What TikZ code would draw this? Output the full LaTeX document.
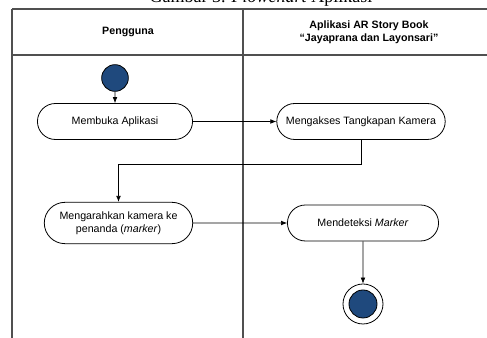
\documentclass[tikz,border=0pt]{standalone}
\usepackage{fontspec}
\setmainfont{Liberation Sans}
\newfontfamily\captionfont{Liberation Serif}
\usepackage{tikz}
\usetikzlibrary{positioning}
\usetikzlibrary{arrows.meta}
\usetikzlibrary{shapes.misc}
\definecolor{startblue}{RGB}{31,73,125}
\definecolor{lanegray}{RGB}{80,80,80}

\begin{document}
\begin{tikzpicture}[x=0.75pt,y=-0.75pt,font=\fontsize{8}{9.75}\selectfont,
lane/.style={draw=lanegray, line width=0.8pt},
activity/.style={rounded rectangle, draw, line width=0.6pt, align=center, minimum height=27pt},
flow/.style={-{Latex[length=4.5pt,width=3.5pt]}, line width=0.5pt},
startnode/.style={circle, draw, line width=0.6pt, fill=startblue, minimum size=20pt, inner sep=0pt}]
\useasboundingbox (0,0) rectangle (487,338);
% caption, cut by the page edge
\node[anchor=base, font=\captionfont\fontsize{13.5}{16}\selectfont] (caption) at (261,3) {Gambar 3. \textit{Flowchart} Aplikasi};
% swimlanes
\draw[lane] (12,9) -- (487,9);
\draw[lane] (12,55) -- (487,55);
\draw[lane] (12,9) -- (12,338);
\draw[lane] (243,9) -- (243,338);
\node[font=\bfseries\fontsize{8}{9.75}\selectfont] (userlane) at (128,32) {Pengguna};
\node[font=\bfseries\fontsize{8}{9.75}\selectfont, align=center] (applane) at (369,32) {Aplikasi AR Story Book\\``Jayaprana dan Layonsari''};
% activities
\node[startnode] (start) at (115,78) {};
\node[activity, minimum width=123pt] (open) at (115,121.5) {Membuka Aplikasi};
\node[activity, minimum width=133pt] (camera) at (361,121.5) {Mengakses Tangkapan Kamera};
\node[activity, minimum width=118pt, minimum height=31pt] (aim) at (118.5,223) {Mengarahkan kamera ke\\penanda (\textit{marker})};
\node[activity, minimum width=120pt] (detect) at (363,223) {Mendeteksi \textit{Marker}};
\node[circle, draw, line width=0.6pt, minimum size=30pt, inner sep=0pt] (finish) at (363,304) {};
\node[circle, draw, line width=0.6pt, fill=startblue, minimum size=21pt, inner sep=0pt] (finishdot) at (finish) {};
% flows
\draw[flow] (start) -- (open);
\draw[flow] (open) -- (camera);
\draw[flow] (camera.south) -- ++(0,24) -| (aim.north);
\draw[flow] (aim) -- (detect);
\draw[flow] (detect) -- (finish);
\end{tikzpicture}
\end{document}
